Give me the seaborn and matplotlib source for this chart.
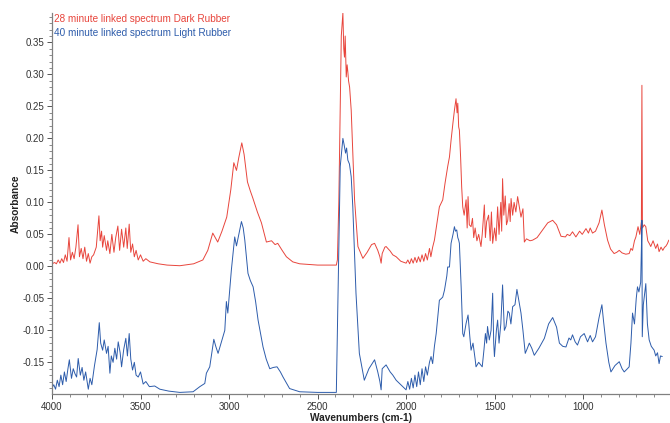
import matplotlib
matplotlib.use("Agg")
import matplotlib.pyplot as plt
from matplotlib.ticker import MultipleLocator, FixedLocator
import seaborn as sns
import pandas as pd

# ---- data ----
red_label = "28 minute linked spectrum Dark Rubber"
blue_label = "40 minute linked spectrum Light Rubber"

red_wn = [4000, 3985, 3975, 3965, 3955, 3945, 3935, 3925, 3915, 3904, 3895, 3885, 3875, 3865, 3853, 3845,
          3835, 3825, 3815, 3805, 3795, 3785, 3775, 3765, 3750, 3735, 3728, 3720, 3714, 3705, 3692, 3685,
          3673, 3662, 3650, 3640, 3628, 3618, 3607, 3595, 3583, 3575, 3564, 3555, 3545, 3535, 3525, 3513,
          3500, 3485, 3470, 3447, 3400, 3350, 3278, 3200, 3148, 3120, 3092, 3064, 3040, 3013, 2990, 2973,
          2958, 2945, 2928, 2915, 2896, 2880, 2866, 2840, 2817, 2800, 2789, 2760, 2740, 2725, 2700, 2676,
          2640, 2601, 2500, 2394, 2388, 2380, 2366, 2357, 2352, 2348, 2344, 2338, 2333, 2329, 2325, 2319,
          2310, 2304, 2291, 2272, 2244, 2220, 2195, 2178, 2160, 2148, 2141, 2135, 2120, 2113, 2090, 2075,
          2056, 2030, 2000, 1990, 1980, 1970, 1960, 1950, 1940, 1930, 1920, 1910, 1900, 1890, 1880, 1868,
          1860, 1850, 1840, 1830, 1812, 1800, 1793, 1780, 1765, 1755, 1746, 1735, 1727, 1718, 1712, 1708,
          1703, 1699, 1692, 1686, 1680, 1672, 1661, 1655, 1650, 1643, 1633, 1625, 1618, 1610, 1600, 1590,
          1577, 1570, 1558, 1552, 1545, 1534, 1525, 1518, 1511, 1500, 1492, 1483, 1475, 1465, 1460, 1455,
          1448, 1440, 1433, 1426, 1418, 1412, 1407, 1398, 1390, 1380, 1370, 1362, 1351, 1340, 1332, 1320,
          1300, 1285, 1260, 1229, 1200, 1172, 1150, 1125, 1100, 1090, 1075, 1060, 1041, 1020, 1005, 984,
          970, 960, 947, 930, 910, 894, 880, 862, 845, 825, 810, 796, 780, 759, 740, 730,
          721, 710, 702, 690, 680, 671, 668, 665, 655, 646, 635, 625, 618, 605, 590, 580,
          571, 560, 550, 540, 534, 525, 516]
red_abs = [0.004, 0.006, 0.004, 0.010, 0.005, 0.012, 0.006, 0.018, 0.008, 0.045, 0.010, 0.022, 0.012, 0.030, 0.065, 0.015,
           0.028, 0.012, 0.030, 0.008, 0.020, 0.005, 0.015, 0.018, 0.030, 0.079, 0.040, 0.055, 0.030, 0.048, 0.025, 0.040,
           0.020, 0.050, 0.022, 0.045, 0.063, 0.025, 0.058, 0.030, 0.060, 0.028, 0.066, 0.022, 0.035, 0.015, 0.025, 0.010,
           0.018, 0.008, 0.012, 0.007, 0.004, 0.002, 0.001, 0.004, 0.010, 0.025, 0.052, 0.038, 0.055, 0.077, 0.120, 0.162,
           0.150, 0.170, 0.193, 0.175, 0.132, 0.118, 0.107, 0.085, 0.068, 0.050, 0.038, 0.040, 0.034, 0.036, 0.025, 0.015,
           0.007, 0.004, 0.002, 0.002, 0.010, 0.100, 0.360, 0.396, 0.340, 0.327, 0.360, 0.296, 0.315, 0.304, 0.290, 0.280,
           0.244, 0.197, 0.104, 0.031, 0.0125, 0.022, 0.034, 0.036, 0.025, 0.015, 0.005, 0.020, 0.030, 0.031, 0.024, 0.018,
           0.015, 0.008, 0.005, 0.010, 0.004, 0.012, 0.005, 0.014, 0.006, 0.015, 0.007, 0.018, 0.008, 0.020, 0.010, 0.028,
           0.015, 0.030, 0.041, 0.060, 0.093, 0.100, 0.104, 0.130, 0.156, 0.171, 0.197, 0.225, 0.244, 0.262, 0.240, 0.255,
           0.218, 0.213, 0.170, 0.124, 0.093, 0.080, 0.104, 0.060, 0.109, 0.065, 0.062, 0.075, 0.045, 0.060, 0.040, 0.050,
           0.031, 0.050, 0.096, 0.045, 0.070, 0.080, 0.040, 0.085, 0.036, 0.060, 0.040, 0.093, 0.050, 0.100, 0.055, 0.137,
           0.080, 0.110, 0.065, 0.072, 0.098, 0.070, 0.106, 0.080, 0.100, 0.085, 0.109, 0.095, 0.077, 0.090, 0.038, 0.043,
           0.040, 0.041, 0.045, 0.057, 0.068, 0.072, 0.065, 0.047, 0.046, 0.050, 0.048, 0.054, 0.046, 0.055, 0.050, 0.059,
           0.052, 0.060, 0.052, 0.055, 0.068, 0.088, 0.065, 0.041, 0.027, 0.020, 0.022, 0.025, 0.021, 0.019, 0.020, 0.028,
           0.025, 0.040, 0.046, 0.062, 0.050, 0.070, 0.283, 0.060, 0.065, 0.062, 0.040, 0.035, 0.031, 0.040, 0.028, 0.035,
           0.023, 0.030, 0.025, 0.030, 0.031, 0.035, 0.041]

blue_wn = [4000, 3990, 3980, 3970, 3960, 3950, 3940, 3930, 3920, 3910, 3902, 3890, 3880, 3870, 3861, 3852,
           3840, 3830, 3820, 3810, 3795, 3785, 3775, 3760, 3745, 3733, 3725, 3714, 3705, 3692, 3683, 3673,
           3665, 3655, 3645, 3635, 3626, 3615, 3607, 3595, 3583, 3574, 3564, 3555, 3545, 3535, 3525, 3513,
           3500, 3485, 3470, 3450, 3420, 3391, 3340, 3278, 3203, 3165, 3137, 3128, 3109, 3086, 3075, 3062,
           3040, 3024, 3015, 3007, 2987, 2968, 2958, 2945, 2930, 2920, 2911, 2893, 2880, 2864, 2850, 2836,
           2808, 2790, 2770, 2750, 2729, 2710, 2695, 2658, 2601, 2500, 2394, 2385, 2372, 2357, 2350, 2342,
           2336, 2329, 2320, 2310, 2301, 2283, 2264, 2236, 2210, 2178, 2160, 2148, 2141, 2135, 2113, 2090,
           2075, 2056, 2030, 2000, 1990, 1980, 1970, 1960, 1950, 1940, 1930, 1920, 1910, 1900, 1890, 1880,
           1868, 1859, 1850, 1840, 1830, 1812, 1800, 1793, 1783, 1770, 1765, 1755, 1746, 1735, 1727, 1721,
           1714, 1708, 1703, 1699, 1689, 1680, 1674, 1661, 1650, 1640, 1633, 1622, 1610, 1605, 1590, 1570,
           1560, 1552, 1545, 1540, 1530, 1520, 1511, 1505, 1501, 1490, 1483, 1475, 1465, 1455, 1445, 1436,
           1425, 1417, 1408, 1398, 1385, 1374, 1362, 1351, 1340, 1327, 1315, 1304, 1290, 1276, 1250, 1219,
           1195, 1172, 1150, 1134, 1115, 1097, 1080, 1070, 1060, 1045, 1032, 1015, 994, 975, 960, 947,
           930, 910, 894, 885, 871, 855, 843, 820, 796, 780, 768, 750, 740, 730, 721, 710,
           700, 693, 685, 675, 670, 668, 666, 660, 646, 637, 627, 615, 599, 590, 580, 571,
           563, 553]
blue_abs = [-0.190, -0.185, -0.192, -0.178, -0.188, -0.170, -0.185, -0.165, -0.180, -0.160, -0.146, -0.175, -0.160, -0.168, -0.173, -0.144,
            -0.170, -0.158, -0.178, -0.165, -0.192, -0.175, -0.185, -0.155, -0.130, -0.088, -0.120, -0.131, -0.115, -0.136, -0.125, -0.167,
            -0.140, -0.150, -0.128, -0.145, -0.118, -0.135, -0.157, -0.130, -0.1125, -0.140, -0.105, -0.145, -0.162, -0.150, -0.170, -0.173,
            -0.165, -0.184, -0.180, -0.188, -0.187, -0.192, -0.195, -0.197, -0.196, -0.188, -0.183, -0.167, -0.157, -0.114, -0.125, -0.136,
            -0.115, -0.100, -0.055, -0.073, -0.006, 0.046, 0.032, 0.050, 0.070, 0.060, 0.041, -0.011, -0.022, -0.032, -0.055, -0.084,
            -0.126, -0.145, -0.160, -0.158, -0.157, -0.165, -0.173, -0.191, -0.196, -0.197, -0.197, -0.053, 0.156, 0.200, 0.190, 0.177,
            0.185, 0.166, 0.160, 0.140, 0.093, -0.042, -0.136, -0.178, -0.160, -0.146, -0.165, -0.180, -0.193, -0.160, -0.154, -0.165,
            -0.170, -0.178, -0.185, -0.193, -0.180, -0.192, -0.175, -0.190, -0.170, -0.188, -0.165, -0.185, -0.160, -0.180, -0.157, -0.170,
            -0.150, -0.141, -0.152, -0.125, -0.105, -0.053, -0.050, -0.048, -0.037, -0.015, -0.001, -0.001, 0.036, 0.050, 0.062, 0.055,
            0.057, 0.045, 0.041, 0.036, -0.032, -0.105, -0.110, -0.089, -0.076, -0.110, -0.131, -0.120, -0.145, -0.157, -0.150, -0.157,
            -0.130, -0.105, -0.120, -0.094, -0.115, -0.100, -0.042, -0.120, -0.141, -0.100, -0.084, -0.120, -0.090, -0.029, -0.100, -0.094,
            -0.070, -0.073, -0.090, -0.063, -0.060, -0.036, -0.055, -0.073, -0.100, -0.136, -0.128, -0.120, -0.128, -0.139, -0.128, -0.1125,
            -0.090, -0.080, -0.095, -0.120, -0.125, -0.126, -0.112, -0.115, -0.107, -0.118, -0.123, -0.110, -0.105, -0.118, -0.108, -0.118,
            -0.110, -0.080, -0.060, -0.085, -0.120, -0.150, -0.165, -0.155, -0.149, -0.160, -0.165, -0.160, -0.157, -0.120, -0.073, -0.090,
            -0.050, -0.032, -0.040, -0.025, 0.040, 0.072, -0.110, -0.060, -0.027, -0.090, -0.115, -0.125, -0.131, -0.140, -0.135, -0.152,
            -0.140, -0.141]

red_color = "#e8453c"
blue_color = "#2d5cab"

# ---- figure ----
sns.set_style("ticks")
plt.rcParams["font.family"] = ["Liberation Sans", "DejaVu Sans"]

fig = plt.figure(figsize=(6.70, 4.23), dpi=100)
ax = fig.add_axes([52 / 670, 1 - 394 / 423, (669 - 52) / 670, (394 - 13) / 423])

df_red = pd.DataFrame({"wn": red_wn, "A": red_abs})
df_blue = pd.DataFrame({"wn": blue_wn, "A": blue_abs})
sns.lineplot(data=df_red, x="wn", y="A", ax=ax, color=red_color, lw=0.7, estimator=None)
sns.lineplot(data=df_blue, x="wn", y="A", ax=ax, color=blue_color, lw=0.7, estimator=None)

ax.set_xlim(4000, 515)
ax.set_ylim(-0.1995, 0.396)

ax.xaxis.set_major_locator(FixedLocator([4000, 3500, 3000, 2500, 2000, 1500, 1000]))
ax.xaxis.set_minor_locator(MultipleLocator(100))
yt = [-0.15, -0.10, -0.05, 0.0, 0.05, 0.10, 0.15, 0.20, 0.25, 0.30, 0.35]
ax.yaxis.set_major_locator(FixedLocator(yt))
ax.yaxis.set_minor_locator(MultipleLocator(0.01))
ax.set_yticklabels([f"{v:.2f}" for v in yt])

ax.tick_params(axis="both", which="major", length=3.5, width=0.7, color="#555555",
               labelsize=7, labelcolor="#333333", pad=2, direction="out")
ax.tick_params(axis="both", which="minor", length=2, width=0.6, color="#777777", direction="out")

for s in ["top", "right"]:
    ax.spines[s].set_visible(False)
for s in ["left", "bottom"]:
    ax.spines[s].set_color("#808080")
    ax.spines[s].set_linewidth(0.9)

ax.set_xlabel("Wavenumbers (cm-1)", fontsize=7.3, fontweight="bold", color="#222222", labelpad=1)
ax.set_ylabel("Absorbance", fontsize=7.3, fontweight="bold", color="#222222", labelpad=1)

fig.text(54 / 670, 1 - 18.5 / 423, red_label, color=red_color, fontsize=7.2, va="center", ha="left")
fig.text(54 / 670, 1 - 32.5 / 423, blue_label, color=blue_color, fontsize=7.2, va="center", ha="left")

fig.savefig("out.png", dpi=100)
